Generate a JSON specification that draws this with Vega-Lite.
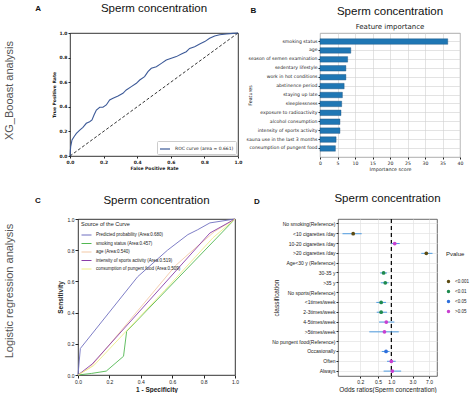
{
  "$schema": "https://vega.github.io/schema/vega-lite/v6.json",
  "padding": {"left": 3, "top": 2, "right": 0, "bottom": 0},
  "background": "white",
  "config": {
    "font": "Liberation Sans",
    "view": {"stroke": "#000", "strokeWidth": 0.8},
    "title": {"font": "Liberation Sans", "fontSize": 11.5, "fontWeight": "normal", "color": "#111"},
    "axis": {"labelColor": "#222", "titleColor": "#222", "tickColor": "#222", "domain": false, "labelFlush": false, "labelOverlap": false, "labelBound": false, "grid": false, "tickSize": 2, "labelPadding": 1, "titlePadding": 2},
    "legend": {"labelColor": "#222", "titleColor": "#222"}
  },
  "resolve": {"scale": {"color": "independent"}, "legend": {"color": "independent"}},
  "datasets": {
    "roc": [
      {"fpr": 0, "tpr": 0}, {"fpr": 0.004, "tpr": 0.076}, {"fpr": 0.012, "tpr": 0.13}, {"fpr": 0.024, "tpr": 0.157},
      {"fpr": 0.038, "tpr": 0.184}, {"fpr": 0.058, "tpr": 0.211}, {"fpr": 0.077, "tpr": 0.233}, {"fpr": 0.097, "tpr": 0.266},
      {"fpr": 0.117, "tpr": 0.279}, {"fpr": 0.131, "tpr": 0.293}, {"fpr": 0.143, "tpr": 0.333}, {"fpr": 0.157, "tpr": 0.374},
      {"fpr": 0.177, "tpr": 0.396}, {"fpr": 0.196, "tpr": 0.396}, {"fpr": 0.216, "tpr": 0.415}, {"fpr": 0.236, "tpr": 0.455},
      {"fpr": 0.256, "tpr": 0.469}, {"fpr": 0.286, "tpr": 0.488}, {"fpr": 0.315, "tpr": 0.51}, {"fpr": 0.335, "tpr": 0.537},
      {"fpr": 0.365, "tpr": 0.564}, {"fpr": 0.395, "tpr": 0.591}, {"fpr": 0.415, "tpr": 0.618}, {"fpr": 0.444, "tpr": 0.645},
      {"fpr": 0.464, "tpr": 0.686}, {"fpr": 0.484, "tpr": 0.713}, {"fpr": 0.514, "tpr": 0.726}, {"fpr": 0.544, "tpr": 0.753},
      {"fpr": 0.573, "tpr": 0.78}, {"fpr": 0.603, "tpr": 0.794}, {"fpr": 0.633, "tpr": 0.808}, {"fpr": 0.663, "tpr": 0.829},
      {"fpr": 0.692, "tpr": 0.848}, {"fpr": 0.712, "tpr": 0.875}, {"fpr": 0.742, "tpr": 0.889}, {"fpr": 0.772, "tpr": 0.911},
      {"fpr": 0.802, "tpr": 0.93}, {"fpr": 0.831, "tpr": 0.957}, {"fpr": 0.861, "tpr": 0.976}, {"fpr": 0.891, "tpr": 0.986},
      {"fpr": 0.931, "tpr": 0.992}, {"fpr": 0.97, "tpr": 0.997}, {"fpr": 1, "tpr": 1}
    ],
    "imp": [
      {"feature": "smoking status", "score": 36.5},
      {"feature": "age", "score": 8.8},
      {"feature": "season of semen examination", "score": 7.9},
      {"feature": "sedentary lifestyle", "score": 7.4},
      {"feature": "work in hot conditions", "score": 7.4},
      {"feature": "abstinence period", "score": 6.9},
      {"feature": "staying up late", "score": 6.4},
      {"feature": "sleeplessness", "score": 6.2},
      {"feature": "exposure to radioactivity", "score": 6.0},
      {"feature": "alcohol consumption", "score": 5.7},
      {"feature": "intensity of sports activity", "score": 5.7},
      {"feature": "sauna use in the last 3 months", "score": 4.6},
      {"feature": "consumption of pungent food", "score": 4.4}
    ],
    "lr": [
      {"s": "Predicted probability (Area:0.680)", "x": 0, "y": 0}, {"s": "Predicted probability (Area:0.680)", "x": 0.015, "y": 0.17},
      {"s": "Predicted probability (Area:0.680)", "x": 0.38, "y": 0.63}, {"s": "Predicted probability (Area:0.680)", "x": 0.57, "y": 0.8},
      {"s": "Predicted probability (Area:0.680)", "x": 0.7, "y": 0.9}, {"s": "Predicted probability (Area:0.680)", "x": 0.76, "y": 0.93},
      {"s": "Predicted probability (Area:0.680)", "x": 0.84, "y": 0.975}, {"s": "Predicted probability (Area:0.680)", "x": 1, "y": 1},
      {"s": "smoking status (Area:0.457)", "x": 0, "y": 0}, {"s": "smoking status (Area:0.457)", "x": 0.085, "y": 0.01},
      {"s": "smoking status (Area:0.457)", "x": 0.18, "y": 0.025}, {"s": "smoking status (Area:0.457)", "x": 0.29, "y": 0.12},
      {"s": "smoking status (Area:0.457)", "x": 0.31, "y": 0.28}, {"s": "smoking status (Area:0.457)", "x": 1, "y": 1},
      {"s": "age (Area:0.540)", "x": 0, "y": 0}, {"s": "age (Area:0.540)", "x": 0.08, "y": 0.05},
      {"s": "age (Area:0.540)", "x": 0.62, "y": 0.7}, {"s": "age (Area:0.540)", "x": 0.72, "y": 0.79},
      {"s": "age (Area:0.540)", "x": 0.87, "y": 0.92}, {"s": "age (Area:0.540)", "x": 1, "y": 1},
      {"s": "intensity of sports activity (Area:0.519)", "x": 0, "y": 0}, {"s": "intensity of sports activity (Area:0.519)", "x": 0.09, "y": 0.07},
      {"s": "intensity of sports activity (Area:0.519)", "x": 0.84, "y": 0.91}, {"s": "intensity of sports activity (Area:0.519)", "x": 1, "y": 1},
      {"s": "consumption of pungent food (Area:0.509)", "x": 0, "y": 0}, {"s": "consumption of pungent food (Area:0.509)", "x": 0.1, "y": 0.06},
      {"s": "consumption of pungent food (Area:0.509)", "x": 0.55, "y": 0.54}, {"s": "consumption of pungent food (Area:0.509)", "x": 0.86, "y": 0.88},
      {"s": "consumption of pungent food (Area:0.509)", "x": 1, "y": 1}
    ],
    "or": [
      {"c": "<10 cigarettes /day", "or": 0.139, "lo": 0.08, "hi": 0.216, "p": "<0.001"},
      {"c": "10-20 cigarettes /day", "or": 1.19, "lo": 0.99, "hi": 1.54, "p": ">0.05"},
      {"c": ">20 cigarettes /day", "or": 6.1, "lo": 4.7, "hi": 8.4, "p": "<0.001"},
      {"c": "30-35 y", "or": 0.67, "lo": 0.56, "hi": 0.8, "p": "<0.01"},
      {"c": ">35 y", "or": 0.73, "lo": 0.58, "hi": 0.87, "p": "<0.01"},
      {"c": "<1times/week", "or": 0.59, "lo": 0.46, "hi": 0.76, "p": "<0.01"},
      {"c": "2-3times/week", "or": 0.59, "lo": 0.47, "hi": 0.8, "p": "<0.01"},
      {"c": "4-5times/week", "or": 0.77, "lo": 0.53, "hi": 1.17, "p": ">0.05"},
      {"c": ">5times/week", "or": 0.7, "lo": 0.32, "hi": 1.47, "p": ">0.05"},
      {"c": "Occasionally", "or": 0.76, "lo": 0.61, "hi": 0.91, "p": "<0.05"},
      {"c": "Often", "or": 1.0, "lo": 0.8, "hi": 1.25, "p": ">0.05"},
      {"c": "Always", "or": 1.05, "lo": 0.67, "hi": 1.66, "p": ">0.05"}
    ]
  },
  "spacing": 20,
  "vconcat": [
    {
      "spacing": 13,
      "resolve": {"scale": {"color": "independent"}, "legend": {"color": "independent"}},
      "hconcat": [
        {
          "width": 1, "height": 115,
          "view": {"stroke": null},
          "title": {"text": "XG_Booast analysis", "orient": "left", "fontSize": 11, "color": "#555", "anchor": "middle", "offset": 0},
          "data": {"values": [{"a": 0}]},
          "mark": {"type": "point", "opacity": 0},
          "encoding": {}
        },
        {
          "spacing": 2,
          "resolve": {"scale": {"color": "independent"}, "legend": {"color": "independent"}},
          "hconcat": [
            {
              "width": 168, "height": 123,
              "title": {"text": "Sperm concentration", "offset": -9},
              "layer": [
                {
                  "data": {"values": [{"fpr": 0, "tpr": 0}, {"fpr": 1, "tpr": 1}]},
                  "mark": {"type": "line", "color": "#000", "strokeDash": [3, 2], "strokeWidth": 0.8},
                  "encoding": {
                    "x": {"field": "fpr", "type": "quantitative", "scale": {"domain": [0, 1], "nice": false},
                      "axis": {"title": "False Positive Rate", "tickCount": 5, "format": ".1f", "labelOverlap": false, "labelFontSize": 4.5, "labelFontWeight": "bold", "labelFont": "DejaVu Sans", "titleFont": "DejaVu Sans", "titleFontSize": 4.5, "titleFontWeight": "bold"}},
                    "y": {"field": "tpr", "type": "quantitative", "scale": {"domain": [0, 1], "nice": false},
                      "axis": {"title": "True Positive Rate", "tickCount": 5, "format": ".1f", "labelOverlap": false, "labelFontSize": 4.5, "labelFontWeight": "bold", "labelFont": "DejaVu Sans", "titleFont": "DejaVu Sans", "titleFontSize": 4.5, "titleFontWeight": "bold", "titlePadding": 3}}
                  }
                },
                {
                  "data": {"name": "roc"},
                  "mark": {"type": "line", "strokeWidth": 1.1},
                  "encoding": {
                    "x": {"field": "fpr", "type": "quantitative"},
                    "y": {"field": "tpr", "type": "quantitative"},
                    "color": {"datum": "ROC curve (area = 0.661)", "scale": {"range": ["#3d5a98"]},
                      "legend": {"orient": "bottom-right", "title": null, "labelFontSize": 4.5, "labelFont": "DejaVu Sans", "symbolType": "stroke", "symbolSize": 100, "symbolStrokeWidth": 1.2, "strokeColor": "#ccc", "fillColor": "white", "padding": 2, "offset": 2, "cornerRadius": 1}}
                  }
                },
                {
                  "data": {"values": [{"t": "A"}]},
                  "mark": {"type": "text", "fontWeight": "bold", "fontSize": 8, "color": "#111"},
                  "encoding": {"x": {"datum": -0.19}, "y": {"datum": 1.195}, "text": {"field": "t"}}
                }
              ]
            },
            {
              "width": 140, "height": 124,
              "title": {"text": "Sperm concentration", "subtitle": "Feature importance", "subtitleFontSize": 7, "subtitleFont": "DejaVu Sans", "subtitleColor": "#222", "subtitlePadding": 5, "offset": -23},
              "view": {"stroke": "#999"},
              "layer": [
                {
                  "data": {"name": "imp"},
                  "mark": {"type": "bar", "color": "#1f77b4", "stroke": "#1b4f7a", "strokeWidth": 0.4},
                  "encoding": {
                    "y": {"field": "feature", "type": "nominal", "sort": null, "scale": {"paddingInner": 0.38, "paddingOuter": 0.65},
                      "axis": {"title": "Features", "labelFontSize": 4.6, "labelFont": "DejaVu Sans", "titleFont": "DejaVu Sans", "titleFontSize": 4.8, "titleFontWeight": "normal", "titlePadding": -6, "grid": true, "gridColor": "#d0d0d0", "gridWidth": 0.6, "bandPosition": 0.5}},
                    "x": {"field": "score", "type": "quantitative", "scale": {"domain": [0, 40], "nice": false},
                      "axis": {"title": "Importance score", "tickCount": 8, "labelOverlap": false, "labelFontSize": 4.6, "labelFont": "DejaVu Sans", "titleFont": "DejaVu Sans", "titleFontSize": 4.8, "titleFontWeight": "normal", "grid": true, "gridColor": "#d0d0d0", "gridWidth": 0.6}}
                  }
                },
                {
                  "data": {"values": [{"t": "B"}]},
                  "mark": {"type": "text", "fontWeight": "bold", "fontSize": 8, "color": "#111"},
                  "encoding": {"x": {"datum": -19}, "y": {"datum": 1.18, "scale": {"domain": [0, 1]}, "axis": null}, "text": {"field": "t"}}
                }
              ],
              "resolve": {"scale": {"y": "independent"}}
            }
          ]
        }
      ]
    },
    {
      "spacing": 13,
      "resolve": {"scale": {"color": "independent"}, "legend": {"color": "independent"}},
      "hconcat": [
        {
          "width": 1, "height": 144,
          "view": {"stroke": null},
          "title": {"text": "Logistic regression analysis", "orient": "left", "fontSize": 11, "color": "#555", "anchor": "middle", "offset": 0},
          "data": {"values": [{"a": 0}]},
          "mark": {"type": "point", "opacity": 0},
          "encoding": {}
        },
        {
          "spacing": 14,
          "resolve": {"scale": {"color": "independent"}, "legend": {"color": "independent"}},
          "hconcat": [
            {
              "width": 157, "height": 156,
              "title": {"text": "Sperm concentration", "offset": -9},
              "layer": [
                {
                  "data": {"name": "lr"},
                  "mark": {"type": "line", "strokeWidth": 0.9},
                  "encoding": {
                    "x": {"field": "x", "type": "quantitative", "scale": {"domain": [0, 1], "nice": false},
                      "axis": {"title": "1 - Specificity", "tickCount": 5, "format": ".1f", "labelOverlap": false, "labelFontSize": 5, "titleFontSize": 6.5, "titleFontWeight": "bold", "tickSize": 3}},
                    "y": {"field": "y", "type": "quantitative", "scale": {"domain": [0, 1], "nice": false},
                      "axis": {"title": "Sensitivity", "tickCount": 5, "format": ".1f", "labelOverlap": false, "labelFontSize": 5, "titleFontSize": 6.5, "titleFontWeight": "bold", "tickSize": 3, "titlePadding": 4}},
                    "color": {"field": "s", "type": "nominal",
                      "scale": {"domain": ["Predicted probability (Area:0.680)", "smoking status (Area:0.457)", "age (Area:0.540)", "intensity of sports activity (Area:0.519)", "consumption of pungent food (Area:0.509)"],
                        "range": ["#6f6fc0", "#52b852", "#f3c9a6", "#8a3ea8", "#eeee88"]},
                      "legend": {"orient": "top-left", "title": "Source of the Curve", "titleFontSize": 5.5, "titleFontWeight": "normal", "labelFontSize": 4.5, "symbolType": "stroke", "symbolSize": 100, "symbolStrokeWidth": 1, "rowPadding": 0.5, "offset": 1, "padding": 2, "titlePadding": 2, "labelLimit": 200}}
                  }
                },
                {
                  "data": {"values": [{"t": "C"}]},
                  "mark": {"type": "text", "fontWeight": "bold", "fontSize": 8, "color": "#111"},
                  "encoding": {"x": {"datum": -0.255}, "y": {"datum": 1.115}, "text": {"field": "t"}}
                }
              ]
            },
            {
              "width": 99, "height": 157,
              "title": {"text": "Sperm concentration", "offset": -7},
              "view": {"stroke": "#444"},
              "layer": [
                {
                  "layer": [
                    {
                      "data": {"values": [{"v": 1}]},
                      "mark": {"type": "rule", "color": "#000", "strokeDash": [4, 3], "strokeWidth": 1.2},
                      "encoding": {"x": {"field": "v", "type": "quantitative", "scale": {"type": "log", "domain": [0.0634, 10.6], "nice": false},
                        "axis": {"title": "Odds ratios(Sperm concentration)", "values": [0.2, 0.5, 1, 3, 7], "format": ".1f", "labelOverlap": false, "labelFontSize": 5, "titleFontSize": 6.5, "titleFontWeight": "normal", "grid": true, "gridColor": "#e3e3e3", "gridWidth": 0.7}}}
                    },
                    {
                      "data": {"name": "or"},
                      "mark": {"type": "rule", "color": "#4f9ce0", "strokeWidth": 1},
                      "encoding": {
                        "y": {"field": "c", "type": "nominal",
                          "scale": {"domain": ["No smoking(Reference)", "<10 cigarettes /day", "10-20 cigarettes /day", ">20 cigarettes /day", "Age<30 y (Reference)", "30-35 y", ">35 y", "No sports(Reference)", "<1times/week", "2-3times/week", "4-5times/week", ">5times/week", "No pungent food(Reference)", "Occasionally", "Often", "Always"], "paddingInner": 0, "paddingOuter": 0},
                          "axis": {"title": "classification", "labelFontSize": 5, "titleFontSize": 6.5, "titleFontWeight": "normal", "grid": true, "gridColor": "#e3e3e3", "gridWidth": 0.7, "bandPosition": 0.5, "titlePadding": -8}},
                        "x": {"field": "lo", "type": "quantitative"},
                        "x2": {"field": "hi"}
                      }
                    },
                    {
                      "data": {"name": "or"},
                      "mark": {"type": "circle", "size": 14, "opacity": 1},
                      "encoding": {
                        "y": {"field": "c", "type": "nominal"},
                        "x": {"field": "or", "type": "quantitative"},
                        "color": {"field": "p", "type": "nominal",
                          "scale": {"domain": ["<0.001", "<0.01", "<0.05", ">0.05"], "range": ["#5c4b12", "#1e8a4e", "#2e6fdc", "#c83fd0"]},
                          "legend": {"orient": "none", "legendX": 108, "legendY": 32, "title": "Pvalue", "titleFontSize": 6, "titleFontWeight": "normal", "labelFontSize": 4.5, "symbolType": "circle", "symbolSize": 12, "titlePadding": 22, "rowPadding": 4, "padding": 0}}
                      }
                    }
                  ]
                },
                {
                  "data": {"values": [{"t": "D"}]},
                  "mark": {"type": "text", "fontWeight": "bold", "fontSize": 8, "color": "#111"},
                  "encoding": {"x": {"datum": 0.00096}, "y": {"datum": 1.11, "scale": {"domain": [0, 1]}, "axis": null}, "text": {"field": "t"}}
                }
              ],
              "resolve": {"scale": {"y": "independent"}}
            }
          ]
        }
      ]
    }
  ]
}
